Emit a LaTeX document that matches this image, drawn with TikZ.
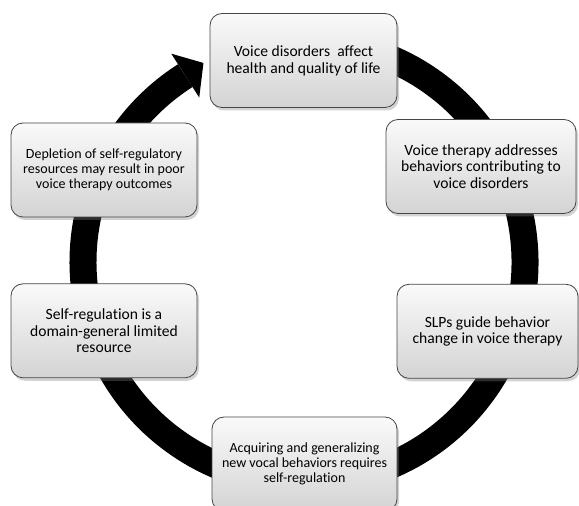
\documentclass[tikz,border=0pt]{standalone}
\usepackage{fontspec}
\setmainfont{Carlito}[Ligatures={TeX,NoCommon}]
\usetikzlibrary{positioning,shadows}

\tikzset{
	box/.style={rectangle, rounded corners=12pt, draw=gray!55!black, line width=0.8pt,
		top color=gray!4, bottom color=gray!34, align=center, inner sep=0pt,
		minimum height=94pt, font=\fontsize{15.6}{16.7}\selectfont,
		drop shadow={shadow xshift=2pt, shadow yshift=-3pt, opacity=0.35}},
	smallbox/.style={box, font=\fontsize{14}{15.2}\selectfont},
}

\begin{document}
\begin{tikzpicture}[x=1pt, y=1pt]
	\useasboundingbox (0,0) rectangle (579,506);
	\coordinate (c) at (304,244);
	% ring with arrow head
	\draw[line width=27pt] ([shift={(100:221pt)}]c) arc[start angle=100, end angle=-237.5, radius=221pt];
	\fill ([shift={(122.5:247pt)}]c) -- ([shift={(116.8:223pt)}]c) -- ([shift={(122.5:195pt)}]c) -- cycle;
	% boxes
	\node[box, minimum width=187pt] (disorders) at (303.5,445.5) {Voice disorders\ \ affect\\health and quality of life};
	\node[box, minimum width=190pt] (therapy) at (481,339.5) {Voice therapy addresses\\behaviors contributing to\\voice disorders};
	\node[box, minimum width=181pt, below=70pt of therapy, xshift=6.5pt] (slps) {SLPs guide behavior\\change in voice therapy};
	\node[smallbox, minimum width=185pt] (acquiring) at (304.5,42) {Acquiring and generalizing\\new vocal behaviors requires\\self-regulation};
	\node[smallbox, minimum width=186pt] (depletion) at (104,336) {Depletion of self-regulatory\\resources may result in poor\\voice therapy outcomes};
	\node[box, minimum width=186pt, below=66pt of depletion] (selfreg) {Self-regulation is a\\domain-general limited\\resource};
\end{tikzpicture}
\end{document}
